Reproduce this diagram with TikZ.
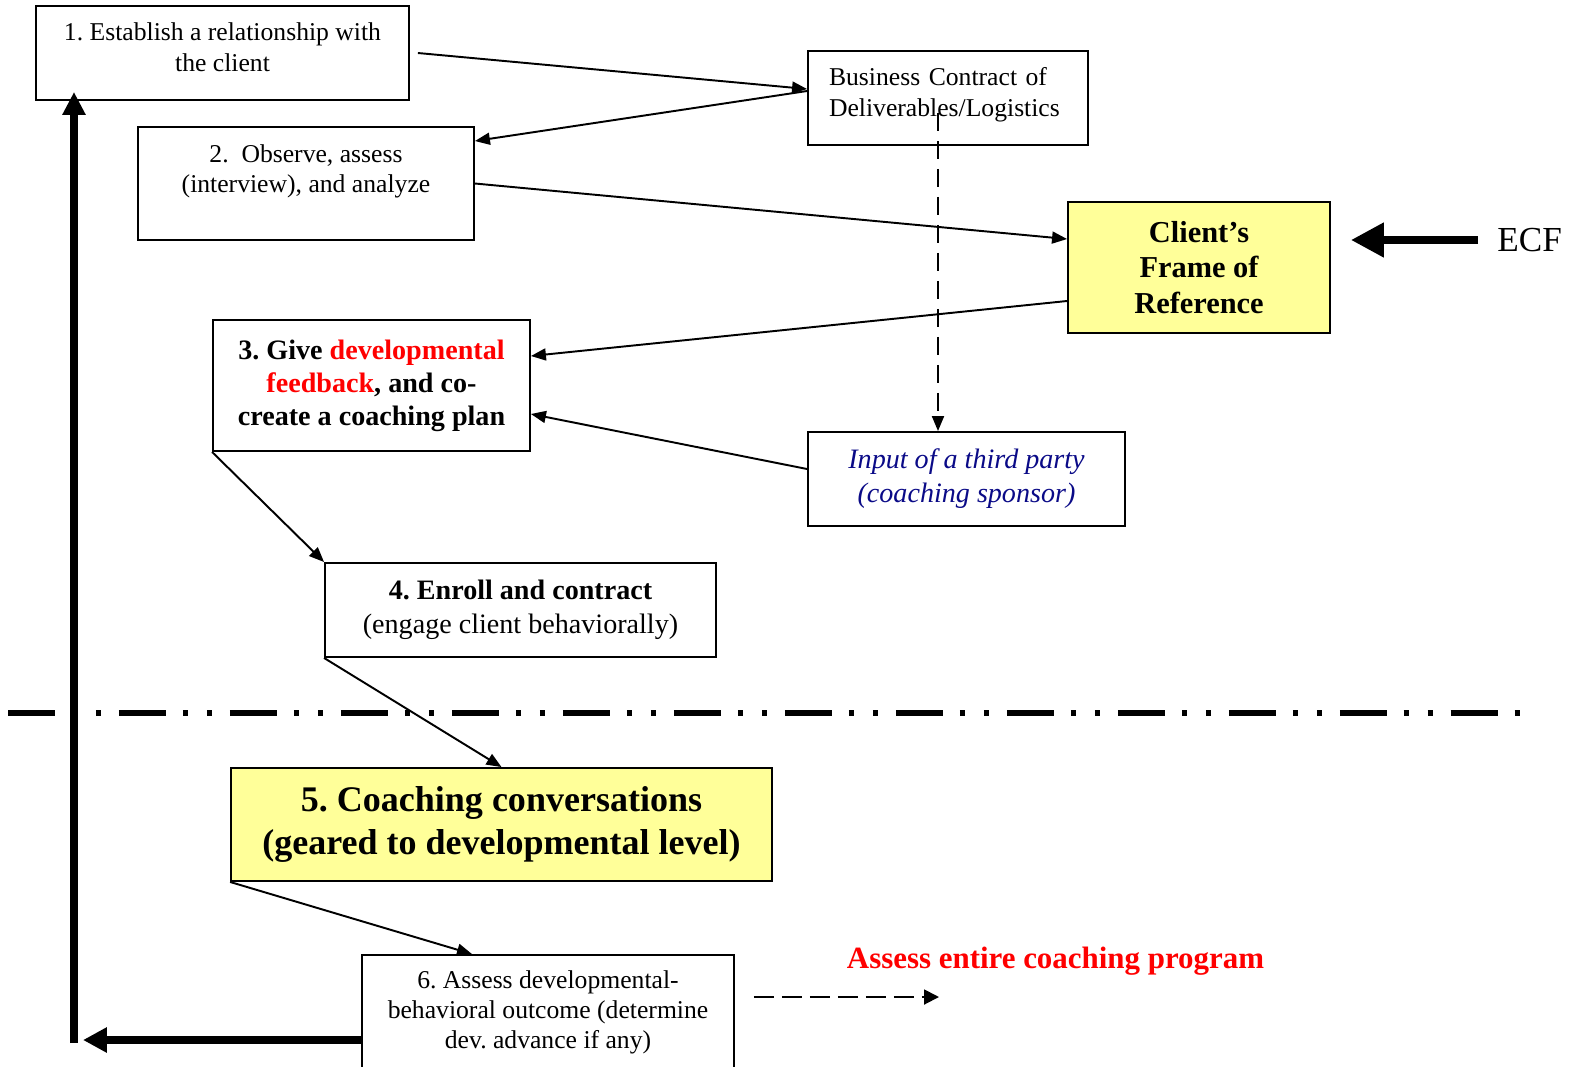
\documentclass[tikz,border=0pt]{standalone}
\usepackage{fontspec}
\setmainfont{Liberation Serif}
\usepackage{tikz}
\usetikzlibrary{arrows.meta,calc}
\frenchspacing

\definecolor{paleyellow}{RGB}{255,255,153}
\definecolor{sponsorblue}{RGB}{10,10,135}
\newcommand{\sz}[2]{\fontsize{#1}{#2}\selectfont}

\begin{document}
\begin{tikzpicture}[x=0.02cm,y=-0.02cm,
  stepbox/.style={draw, line width=1.1pt, align=center, inner sep=0pt},
  link/.style={line width=1.1pt, -{Triangle[length=0.3cm,width=0.24cm]}},
  heavy/.style={line width=4.4pt}]
\useasboundingbox (0,0) rectangle (1570,1066);
%\draw[step=100,gray,very thin] (0,0) grid (1570,1066);

\draw[line width=0.12cm, dash pattern=on 0.94cm off 0.34cm on 0.1cm off 0.38cm on 0.1cm off 0.36cm] (8,713) -- (1533,713);

\node[stepbox, minimum width=7.46cm, minimum height=1.88cm, text depth=6.8pt, font=\sz{14.6}{17.6}] (est) at (222.5,53) {1. Establish a relationship with\\the client};
\node[stepbox, minimum width=6.72cm, minimum height=2.26cm, text depth=17pt, font=\sz{14.6}{17.6}] (observe) at (306,183.5) {2.\ \ Observe, assess\\(interview), and analyze};
\node[stepbox, minimum width=5.6cm, minimum height=1.88cm, align=left, text width=4.76cm, inner xsep=0.42cm, text depth=24.8pt, font=\sz{14.6}{17.6}] (business) at (948,98) {Business Contract of\\Deliverables/Logistics};
\node[stepbox, fill=paleyellow, minimum width=5.24cm, minimum height=2.62cm, font=\bfseries\sz{17.3}{20.4}] (frame) at (1199,267.5) {Client's\\Frame of\\Reference};
\node[stepbox, minimum width=6.34cm, minimum height=2.62cm, font=\bfseries\sz{16}{18.7}] (feedback) at (371.5,385.5) {3. Give \textcolor{red}{developmental}\\\textcolor{red}{feedback}, and co-\\create a coaching plan};
\node[stepbox, minimum width=6.34cm, minimum height=1.88cm, font=\itshape\sz{16}{19.3}, text=sponsorblue] (sponsor) at (966.5,479) {Input of a third party\\(coaching sponsor)};
\node[stepbox, minimum width=7.82cm, minimum height=1.88cm, font=\sz{16}{19.3}] (enroll) at (520.5,610) {\textbf{4. Enroll and contract}\\(engage client behaviorally)};
\node[stepbox, fill=paleyellow, minimum width=10.82cm, minimum height=2.26cm, font=\bfseries\sz{20.5}{24.4}] (conv) at (501.5,824.5) {5. Coaching conversations\\(geared to developmental level)};
\node[stepbox, minimum width=7.44cm, minimum height=2.28cm, font=\sz{14.6}{17}] (outcome) at (548,1012) {6. Assess developmental-\\behavioral outcome (determine\\dev. advance if any)};

\node[anchor=west, inner sep=0pt, font=\sz{20}{24}] (ecf) at (1497,240) {ECF};
\node[font=\bfseries\sz{17.6}{21}, text=red] (program) at (1055.5,961) {Assess entire coaching program};

\draw[link] ([xshift=0.16cm]est.east) -- ([yshift=0.18cm]business.west);
\draw[link] ([yshift=0.14cm]business.west) -- ([yshift=0.85cm]observe.east);
\draw[link] (observe.east) -- ([yshift=0.57cm]frame.west);
\draw[link] ([yshift=-0.67cm]frame.west) -- ([yshift=0.59cm]feedback.east);
\draw[link] ([yshift=0.2cm]sponsor.west) -- ([yshift=-0.57cm]feedback.east);
\draw[link] (feedback.south west) -- (enroll.north west);
\draw[link] (enroll.south west) -- (conv.north);
\draw[link] (conv.south west) -- ([xshift=-1.52cm]outcome.north);

% contract feeds the sponsor input
\coordinate (contractdrop) at (938,113);
\draw[line width=1.1pt, dash pattern=on 0.36cm off 0.2cm, -{Triangle[length=0.3cm,width=0.24cm]}] (contractdrop) -- (contractdrop |- sponsor.north);

% back to step 1
\coordinate (loopbase) at (74,1043);
\coordinate (looptip) at (83,1040);
\draw[heavy, -{Triangle[length=0.46cm,width=0.44cm]}] (loopbase) -- ($(loopbase |- est.south)+(0,-9)$);
\draw[heavy, -{Triangle[length=0.48cm,width=0.48cm]}] (outcome.west |- looptip) -- (looptip);

\draw[heavy, -{Triangle[length=0.66cm,width=0.66cm]}] ([xshift=-0.38cm]ecf.west) -- ($(frame.east |- ecf.west)+(20,0)$);

\coordinate (programtip) at (939,997);
\draw[line width=1.1pt, dash pattern=on 0.4cm off 0.16cm, -{Triangle[length=0.3cm,width=0.3cm]}] ($(outcome.east |- programtip)+(19,0)$) -- (programtip);

\end{tikzpicture}
\end{document}
